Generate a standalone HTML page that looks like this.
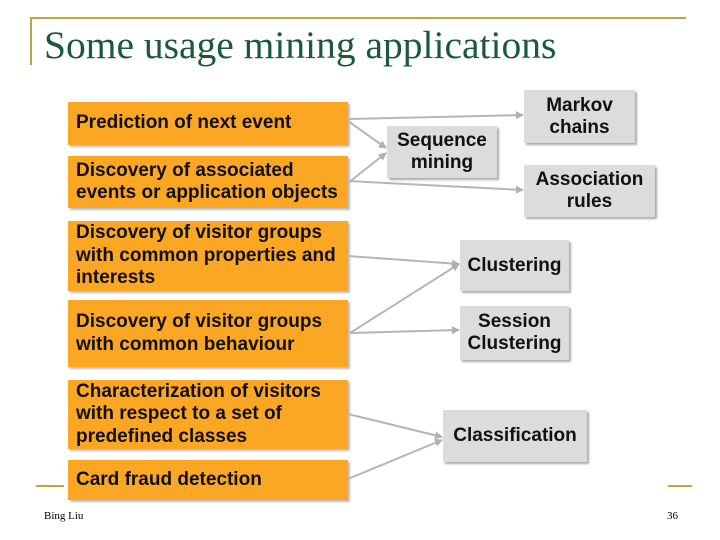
<!DOCTYPE html><html><head><style>
body{margin:0;width:720px;height:540px;background:#fff;position:relative;overflow:hidden;font-family:"Liberation Sans",sans-serif}
.o{position:absolute;left:68px;width:280px;background:#fba724;box-shadow:2px 2px 2px #bbb;font-weight:bold;font-size:19px;color:#111;line-height:22.5px;padding-left:8px;box-sizing:border-box;display:flex;align-items:center;white-space:nowrap}
.g{position:absolute;background:#dcdcdc;box-shadow:2px 2px 2px #aaa;font-weight:bold;font-size:19px;color:#111;line-height:22px;text-align:center;display:flex;align-items:center;justify-content:center;white-space:nowrap}
</style></head><body>
<div style="position:absolute;left:30px;top:17px;width:656px;height:2px;background:#b8a640"></div>
<div style="position:absolute;left:30px;top:17px;width:2px;height:48px;background:#b8a640"></div>
<div style="position:absolute;left:44px;top:22px;font-family:'Liberation Serif',serif;font-size:39.5px;color:#1a5a3a;white-space:nowrap">Some usage mining applications</div>
<div style="position:absolute;left:36px;top:485px;width:28px;height:2px;background:#b8a640"></div>
<div style="position:absolute;left:668px;top:485px;width:24px;height:2px;background:#b8a640"></div>
<div style="position:absolute;left:44px;top:510px;font-family:'Liberation Serif',serif;font-size:11px">Bing Liu</div>
<div style="position:absolute;left:667px;top:510px;font-family:'Liberation Serif',serif;font-size:11px">36</div>
<svg width="720" height="540" style="position:absolute;left:0;top:0">
<defs><marker id="a" markerWidth="8" markerHeight="8" refX="7" refY="4" orient="auto" markerUnits="userSpaceOnUse"><path d="M0,0L8,4L0,8z" fill="#b0b0b0"/></marker></defs>
<g stroke="#b5b5b5" stroke-width="2" fill="none" marker-end="url(#a)">
<line x1="348" y1="119" x2="523" y2="115"/>
<line x1="348" y1="121" x2="386" y2="148"/>
<line x1="348" y1="183" x2="386" y2="153"/>
<line x1="348" y1="181" x2="523" y2="190"/>
<line x1="348" y1="256" x2="459" y2="264"/>
<line x1="350" y1="333" x2="459" y2="264"/>
<line x1="350" y1="333" x2="459" y2="330"/>
<line x1="348" y1="414" x2="442" y2="437"/>
<line x1="348" y1="479" x2="442" y2="440"/>
</g></svg>
<div class="o" style="top:102px;height:43px">Prediction of next event</div>
<div class="o" style="top:156px;height:52px">Discovery of associated<br>events or application objects</div>
<div class="o" style="top:221px;height:70px">Discovery of visitor groups<br>with common properties and<br>interests</div>
<div class="o" style="top:300px;height:67px">Discovery of visitor groups<br>with common behaviour</div>
<div class="o" style="top:380px;height:69px">Characterization of visitors<br>with respect to a set of<br>predefined classes</div>
<div class="o" style="top:460px;height:40px">Card fraud detection</div>
<div class="g" style="left:524px;top:90px;width:111px;height:53px">Markov<br>chains</div>
<div class="g" style="left:387px;top:126px;width:110px;height:52px">Sequence<br>mining</div>
<div class="g" style="left:524px;top:165px;width:131px;height:52px">Association<br>rules</div>
<div class="g" style="left:460px;top:240px;width:109px;height:51px">Clustering</div>
<div class="g" style="left:460px;top:306px;width:109px;height:54px">Session<br>Clustering</div>
<div class="g" style="left:443px;top:410px;width:144px;height:52px">Classification</div>
</body></html>
